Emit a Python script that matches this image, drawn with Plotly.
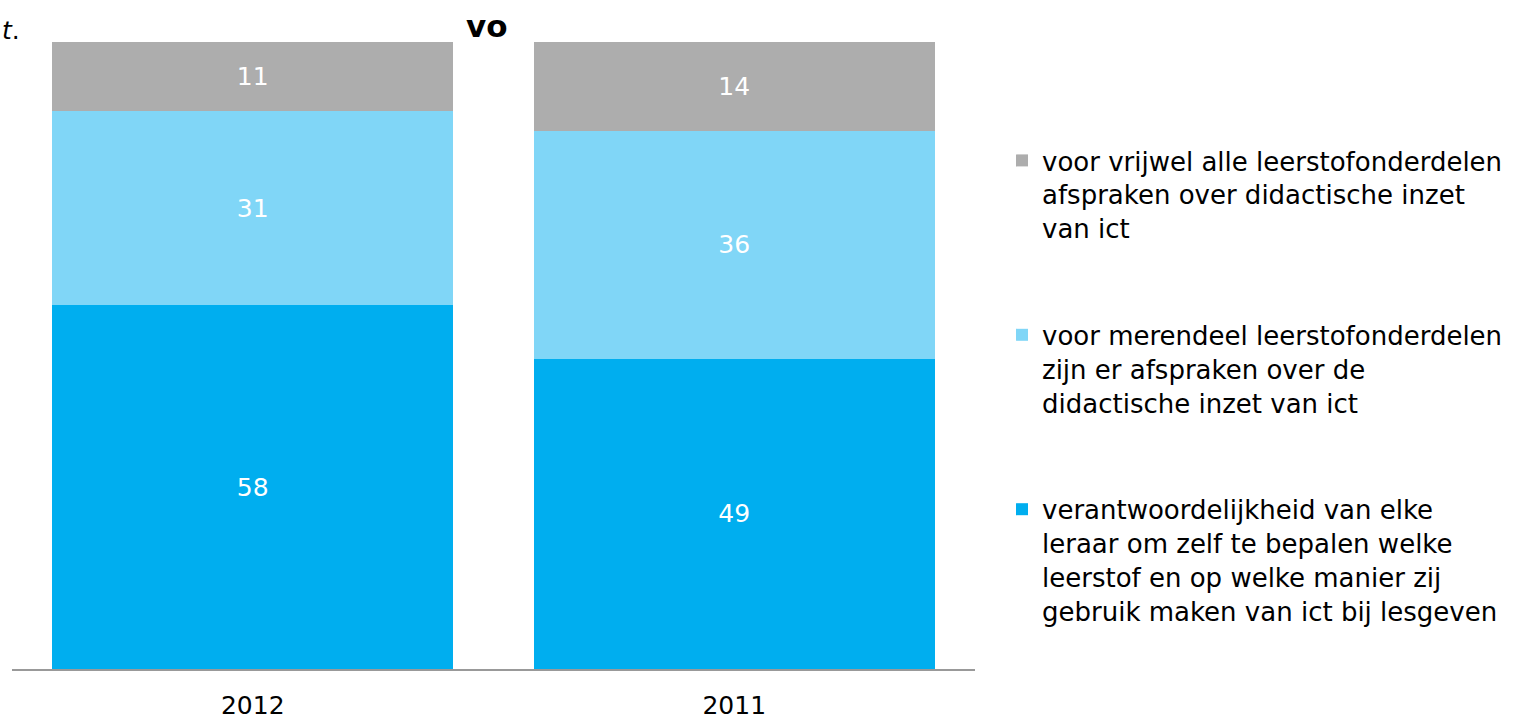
import plotly.graph_objects as go

years = ["2012", "2011"]
series_names = [
    "verantwoordelijkheid van elke<br>leraar om zelf te bepalen welke<br>leerstof en op welke manier zij<br>gebruik maken van ict bij lesgeven",
    "voor merendeel leerstofonderdelen<br>zijn er afspraken over de<br>didactische inzet van ict",
    "voor vrijwel alle leerstofonderdelen<br>afspraken over didactische inzet<br>van ict",
]
values_eigen = [58, 49]
values_merendeel = [31, 36]
values_alle = [11, 14]
series_values = [values_eigen, values_merendeel, values_alle]
colors = ["#00AEEF", "#80D6F7", "#ADADAD"]
legend_ranks = [3, 2, 1]

FONT = "Verdana, DejaVu Sans, sans-serif"

fig = go.Figure()
for i, (name, vals, col, rk) in enumerate(zip(series_names, series_values, colors, legend_ranks)):
    fig.add_trace(go.Bar(
        x=years, y=vals, name=name, legendgroup=f"g{i}", legendrank=rk,
        marker=dict(color=col, line=dict(width=0)),
        text=[str(v) for v in vals], textposition="inside",
        insidetextanchor="middle", textangle=0, constraintext="none",
        textfont=dict(color="white", size=25, family=FONT),
        hoverinfo="skip",
    ))

fig.update_layout(
    width=1522, height=719,
    barmode="stack", barnorm="percent", bargap=0.167,
    plot_bgcolor="white", paper_bgcolor="white",
    margin=dict(l=12, r=547, t=42, b=50, autoexpand=False),
    font=dict(family=FONT, color="#000000"),
    showlegend=True,
    legend=dict(
        x=(1002 - 12) / 963, xanchor="left", y=1 - (137 - 42) / 627, yanchor="top",
        traceorder="grouped", valign="top", tracegroupgap=70,
        font=dict(size=26, family=FONT, color="#000000"),
        itemwidth=30, bgcolor="rgba(0,0,0,0)",
    ),
    xaxis=dict(
        showline=True, linecolor="#999999", linewidth=2,
        ticks="", showgrid=False, zeroline=False, automargin=False,
        tickfont=dict(size=25, family=FONT, color="#000000"),
        ticklabelstandoff=13,
    ),
    yaxis=dict(range=[0, 100], visible=False, showgrid=False, zeroline=False,
               automargin=False),
)

fig.add_annotation(
    text="<b>vo</b>", xref="paper", yref="paper", x=(487 - 12) / 963, y=1,
    yshift=-4, xanchor="center", yanchor="bottom", showarrow=False,
    font=dict(size=31, family=FONT, color="#000000"),
)
fig.add_annotation(
    text="<i>t</i>.", xref="paper", yref="paper", x=-12 / 963, y=1,
    yshift=-5, xanchor="left", yanchor="bottom", showarrow=False,
    font=dict(size=25, family=FONT, color="#000000"),
)

fig.write_html("out.html", config={"displayModeBar": False},
               post_script="document.body.style.margin='0';")
